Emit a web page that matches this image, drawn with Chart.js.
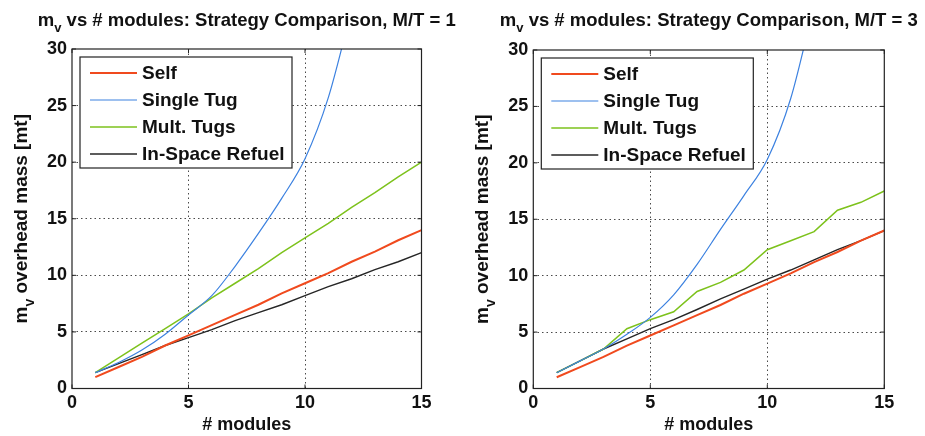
<!DOCTYPE html>
<html>
<head>
<meta charset="utf-8">
<script src="https://cdn.jsdelivr.net/npm/chart.js@4"></script>
<style>
  body { margin: 0; background: #fff; }
  #wrap { position: relative; width: 925px; height: 436px; overflow: hidden; }
  canvas { position: absolute; top: 0; }
</style>
</head>
<body>
<div id="wrap">
  <canvas id="mt1" width="465" height="436" style="left:0px"></canvas>
  <canvas id="mt3" width="460" height="436" style="left:465px"></canvas>
</div>
<script>
// number of modules on the x axis
const modules = [1, 2, 3, 4, 5, 6, 7, 8, 9, 10, 11, 12, 13, 14, 15];

// M/T = 1
const selfMT1   = [1.0, 1.9, 2.8, 3.8, 4.7, 5.6, 6.5, 7.4, 8.4, 9.3, 10.2, 11.2, 12.1, 13.1, 14.0];
const singleMT1 = [1.4, 2.3, 3.4, 4.8, 6.5, 8.2, 10.8, 13.7, 16.8, 20.3, 25.7, 33.5];
const multMT1   = [1.4, 2.7, 4.0, 5.3, 6.6, 8.0, 9.3, 10.6, 12.0, 13.3, 14.6, 16.0, 17.3, 18.7, 20.0];
const refuelMT1 = [1.4, 2.2, 3.0, 3.8, 4.5, 5.2, 6.0, 6.7, 7.4, 8.2, 9.0, 9.7, 10.5, 11.2, 12.0];

// M/T = 3
const selfMT3   = [1.0, 1.9, 2.8, 3.8, 4.7, 5.6, 6.5, 7.4, 8.4, 9.3, 10.2, 11.2, 12.1, 13.1, 14.0];
const singleMT3 = [1.4, 2.45, 3.5, 4.8, 6.3, 8.3, 11.0, 14.1, 17.1, 20.3, 25.7, 34.0];
const multMT3   = [1.4, 2.45, 3.5, 5.3, 6.1, 6.8, 8.6, 9.4, 10.5, 12.3, 13.1, 13.9, 15.8, 16.5, 17.5];
const refuelMT3 = [1.4, 2.45, 3.5, 4.4, 5.3, 6.1, 7.0, 7.95, 8.8, 9.7, 10.5, 11.4, 12.3, 13.1, 14.0];

const seriesNames = ['Self', 'Single Tug', 'Mult. Tugs', 'In-Space Refuel'];
const seriesColors = ['#f04a1e', '#3d82e0', '#7dc21c', '#262626'];
const seriesWidths = [2, 1.2, 1.5, 1.4];

const xTicks = [0, 5, 10, 15];
const yTicks = [0, 5, 10, 15, 20, 25, 30];

const FONT = '"Liberation Sans", Arial, Helvetica, sans-serif';

function toPoints(values) {
    return values.map((v, i) => ({ x: modules[i], y: v }));
}

// text like "m_v ..." : main letter, subscript, rest
function drawSubText(ctx, parts, size, cx, baseline) {
    const main = 'bold ' + size + 'px ' + FONT;
    const small = 'bold ' + Math.round(size * 0.72) + 'px ' + FONT;
    ctx.font = main;
    const w0 = ctx.measureText(parts[0]).width;
    const w2 = ctx.measureText(parts[2]).width;
    ctx.font = small;
    const w1 = ctx.measureText(parts[1]).width;
    let x = cx - (w0 + w1 + w2) / 2;
    ctx.textAlign = 'left';
    ctx.textBaseline = 'alphabetic';
    ctx.font = main;
    ctx.fillText(parts[0], x, baseline);
    x += w0;
    ctx.font = small;
    ctx.fillText(parts[1], x, baseline + size * 0.35);
    x += w1;
    ctx.font = main;
    ctx.fillText(parts[2], x, baseline);
}

// frame, inward ticks, titles and the legend box
const panelDecor = {
    id: 'panelDecor',
    afterDraw(chart, args, opts) {
        const ctx = chart.ctx;
        const a = chart.chartArea;
        const xs = chart.scales.x, ys = chart.scales.y;
        ctx.save();
        ctx.fillStyle = '#111';
        ctx.strokeStyle = '#222';

        // box round the axes
        ctx.lineWidth = 1.2;
        ctx.strokeRect(a.left, a.top, a.right - a.left, a.bottom - a.top);
        ctx.lineWidth = 1;
        ctx.beginPath();
        xTicks.forEach(t => {
            const px = xs.getPixelForValue(t);
            ctx.moveTo(px, a.bottom); ctx.lineTo(px, a.bottom - 4);
            ctx.moveTo(px, a.top); ctx.lineTo(px, a.top + 4);
        });
        yTicks.forEach(t => {
            const py = ys.getPixelForValue(t);
            ctx.moveTo(a.left, py); ctx.lineTo(a.left + 4, py);
            ctx.moveTo(a.right, py); ctx.lineTo(a.right - 4, py);
        });
        ctx.stroke();

        const cx = (a.left + a.right) / 2;
        drawSubText(ctx, opts.title, 18.5, cx, 26);

        ctx.font = 'bold 18px ' + FONT;
        ctx.textAlign = 'center';
        ctx.textBaseline = 'alphabetic';
        ctx.fillText('# modules', cx, 430);

        ctx.save();
        ctx.translate(a.left - 45, (a.top + a.bottom) / 2);
        ctx.rotate(-Math.PI / 2);
        drawSubText(ctx, ['m', 'v', ' overhead mass [mt]'], 19, 0, 0);
        ctx.restore();

        // legend
        const bx = a.left + 8, by = a.top + 8, bw = 212, bh = 111;
        ctx.fillStyle = '#fff';
        ctx.fillRect(bx, by, bw, bh);
        ctx.lineWidth = 1.2;
        ctx.strokeStyle = '#222';
        ctx.strokeRect(bx, by, bw, bh);
        chart.data.datasets.forEach((ds, i) => {
            const ry = by + 16 + i * 27;
            ctx.strokeStyle = ds.borderColor;
            ctx.lineWidth = ds.borderWidth;
            ctx.beginPath();
            ctx.moveTo(bx + 10, ry);
            ctx.lineTo(bx + 57, ry);
            ctx.stroke();
            ctx.fillStyle = '#111';
            ctx.font = 'bold 19px ' + FONT;
            ctx.textAlign = 'left';
            ctx.textBaseline = 'middle';
            ctx.fillText(ds.label, bx + 62, ry + 1);
        });
        ctx.restore();
    }
};

function makePanel(id, seriesList, title, yWidth, pad) {
    const datasets = seriesList.map((vals, i) => ({
        label: seriesNames[i],
        data: toPoints(vals),
        borderColor: seriesColors[i],
        borderWidth: seriesWidths[i],
        pointRadius: 0,
        fill: false,
        cubicInterpolationMode: i === 1 ? 'monotone' : 'default',
        tension: 0
    }));

    const hideEdge = (lo, hi) => c =>
        (c.tick && (c.tick.value === lo || c.tick.value === hi)) ? 'rgba(0,0,0,0)' : '#4a4a4a';

    return new Chart(document.getElementById(id), {
        type: 'line',
        data: { datasets },
        options: {
            responsive: false,
            animation: false,
            devicePixelRatio: 1,
            layout: { padding: pad },
            plugins: {
                legend: { display: false },
                tooltip: { enabled: false },
                panelDecor: { title }
            },
            scales: {
                x: {
                    type: 'linear',
                    min: 0, max: 15,
                    afterBuildTicks: s => { s.ticks = xTicks.map(v => ({ value: v })); },
                    afterFit: s => { s.height = 20; },
                    grid: { color: hideEdge(0, 15), lineWidth: 1, drawTicks: false },
                    border: { display: false, dash: [1.5, 3] },
                    ticks: { padding: 4, color: '#111', font: { family: FONT, size: 18, weight: 'bold' } }
                },
                y: {
                    min: 0, max: 30,
                    afterBuildTicks: s => { s.ticks = yTicks.map(v => ({ value: v })); },
                    afterFit: s => { s.width = yWidth; },
                    grid: { color: hideEdge(0, 30), lineWidth: 1, drawTicks: false },
                    border: { display: false, dash: [1.5, 3] },
                    ticks: { padding: 5, color: '#111', font: { family: FONT, size: 18, weight: 'bold' } }
                }
            }
        },
        plugins: [panelDecor]
    });
}

makePanel('mt1', [selfMT1, singleMT1, multMT1, refuelMT1],
    ['m', 'v', ' vs # modules: Strategy Comparison, M/T = 1'],
    72, { left: 0, right: 43.5, top: 49, bottom: 27.5 });

makePanel('mt3', [selfMT3, singleMT3, multMT3, refuelMT3],
    ['m', 'v', ' vs # modules: Strategy Comparison, M/T = 3'],
    68.3, { left: 0, right: 40.7, top: 50, bottom: 27.5 });
</script>
</body>
</html>
